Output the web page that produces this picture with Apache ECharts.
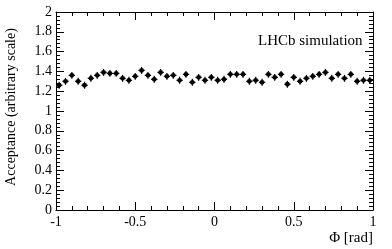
<!DOCTYPE html>
<html>
<head>
<meta charset="utf-8">
<script src="https://cdn.jsdelivr.net/npm/echarts@6/dist/echarts.min.js"></script>
<style>
html,body{margin:0;padding:0;background:#fff;}
#c{width:392px;height:249px;}
</style>
</head>
<body>
<div id="c"></div>
<script>
var phiCenters = [-0.98,-0.94,-0.90,-0.86,-0.82,-0.78,-0.74,-0.70,-0.66,-0.62,
  -0.58,-0.54,-0.50,-0.46,-0.42,-0.38,-0.34,-0.30,-0.26,-0.22,
  -0.18,-0.14,-0.10,-0.06,-0.02,0.02,0.06,0.10,0.14,0.18,
  0.22,0.26,0.30,0.34,0.38,0.42,0.46,0.50,0.54,0.58,
  0.62,0.66,0.70,0.74,0.78,0.82,0.86,0.90,0.94,0.98];
var acceptance = [1.26,1.30,1.36,1.30,1.26,1.33,1.36,1.39,1.38,1.38,
  1.33,1.31,1.35,1.41,1.36,1.32,1.39,1.35,1.36,1.31,
  1.37,1.29,1.34,1.31,1.34,1.31,1.32,1.37,1.37,1.37,
  1.30,1.31,1.29,1.37,1.34,1.37,1.27,1.34,1.30,1.33,
  1.35,1.37,1.39,1.33,1.37,1.33,1.37,1.30,1.31,1.31];
var acceptanceErr = [0.035,0.035,0.035,0.035,0.035,0.035,0.035,0.035,0.035,0.035,
  0.035,0.035,0.035,0.035,0.035,0.035,0.035,0.035,0.035,0.035,
  0.035,0.035,0.035,0.035,0.035,0.035,0.035,0.035,0.035,0.035,
  0.035,0.035,0.035,0.035,0.035,0.035,0.035,0.035,0.035,0.035,
  0.035,0.035,0.035,0.035,0.035,0.035,0.035,0.035,0.035,0.035];
var binHalfWidth = 0.02;
var xTickValues = [-1,-0.5,0,0.5,1];
var xTickLabels = ['-1','-0.5','0','0.5','1'];
var yTickValues = [0,0.2,0.4,0.6,0.8,1,1.2,1.4,1.6,1.8,2];
var yTickLabels = ['0','0.2','0.4','0.6','0.8','1','1.2','1.4','1.6','1.8','2'];

function lab(vals, labels){
  return function(v){
    for (var i=0;i<vals.length;i++){ if (Math.abs(vals[i]-v)<1e-6) return labels[i]; }
    return '';
  };
}
var FONT = 'Liberation Serif';
var data = phiCenters.map(function(x,i){return [x, acceptance[i], acceptanceErr[i]];});

var chart = echarts.init(document.getElementById('c'), null, {renderer:'canvas'});
var axisLine = {show:true, onZero:false, lineStyle:{color:'#000', width:1}};
chart.setOption({
  animation:false,
  backgroundColor:'#fff',
  grid:{left:56, right:19, top:12, bottom:39, containLabel:false},
  xAxis:[{
    type:'value', min:-1, max:1, interval:0.5, position:'bottom',
    axisLine:axisLine,
    axisTick:{show:true, inside:true, length:8, lineStyle:{color:'#000'}},
    minorTick:{show:true, splitNumber:5, length:4, lineStyle:{color:'#000'}},
    splitLine:{show:false}, minorSplitLine:{show:false},
    axisLabel:{color:'#000', fontFamily:FONT, fontSize:14, margin:5, formatter:lab(xTickValues,xTickLabels)}
  },{
    type:'value', min:-1, max:1, interval:0.5, position:'top',
    axisLine:axisLine,
    axisTick:{show:true, inside:true, length:8, lineStyle:{color:'#000'}},
    minorTick:{show:true, splitNumber:5, length:4, lineStyle:{color:'#000'}},
    splitLine:{show:false}, axisLabel:{show:false}
  }],
  yAxis:[{
    type:'value', min:0, max:2, interval:0.2, position:'left',
    axisLine:axisLine,
    axisTick:{show:true, inside:true, length:8, lineStyle:{color:'#000'}},
    minorTick:{show:true, splitNumber:5, length:4, lineStyle:{color:'#000'}},
    splitLine:{show:false}, minorSplitLine:{show:false},
    axisLabel:{color:'#000', fontFamily:FONT, fontSize:14, margin:4, formatter:lab(yTickValues,yTickLabels)}
  },{
    type:'value', min:0, max:2, interval:0.2, position:'right',
    axisLine:axisLine,
    axisTick:{show:true, inside:true, length:8, lineStyle:{color:'#000'}},
    minorTick:{show:true, splitNumber:5, length:4, lineStyle:{color:'#000'}},
    splitLine:{show:false}, axisLabel:{show:false}
  }],
  graphic:[{
    type:'text', left:258, top:34,
    style:{text:'LHCb simulation', fill:'#000', font:'15px "Liberation Serif"'}
  },{
    type:'text', x:11, y:107, rotation:Math.PI/2,
    style:{text:'Acceptance (arbitrary scale)', fill:'#000', font:'14px "Liberation Serif"', textAlign:'center', textVerticalAlign:'middle'}
  },{
    type:'text', x:373, y:238,
    style:{text:'Φ [rad]', fill:'#000', font:'15px "Liberation Serif"', textAlign:'right', textVerticalAlign:'middle'}
  }],
  series:[{
    type:'custom', xAxisIndex:0, yAxisIndex:0,
    data:data,
    renderItem:function(params, api){
      var x = api.value(0), y = api.value(1), e = api.value(2);
      var c = api.coord([x,y]);
      var top = api.coord([x,y+e]), bot = api.coord([x,y-e]);
      var l = api.coord([x-binHalfWidth,y]), r = api.coord([x+binHalfWidth,y]);
      var st = {stroke:'#000', lineWidth:1.2};
      return {type:'group', children:[
        {type:'line', shape:{x1:top[0],y1:top[1],x2:bot[0],y2:bot[1]}, style:st},
        {type:'line', shape:{x1:l[0],y1:l[1],x2:r[0],y2:r[1]}, style:st},
        {type:'circle', shape:{cx:c[0],cy:c[1],r:2.4}, style:{fill:'#000'}}
      ]};
    }
  }]
});
</script>
</body>
</html>
